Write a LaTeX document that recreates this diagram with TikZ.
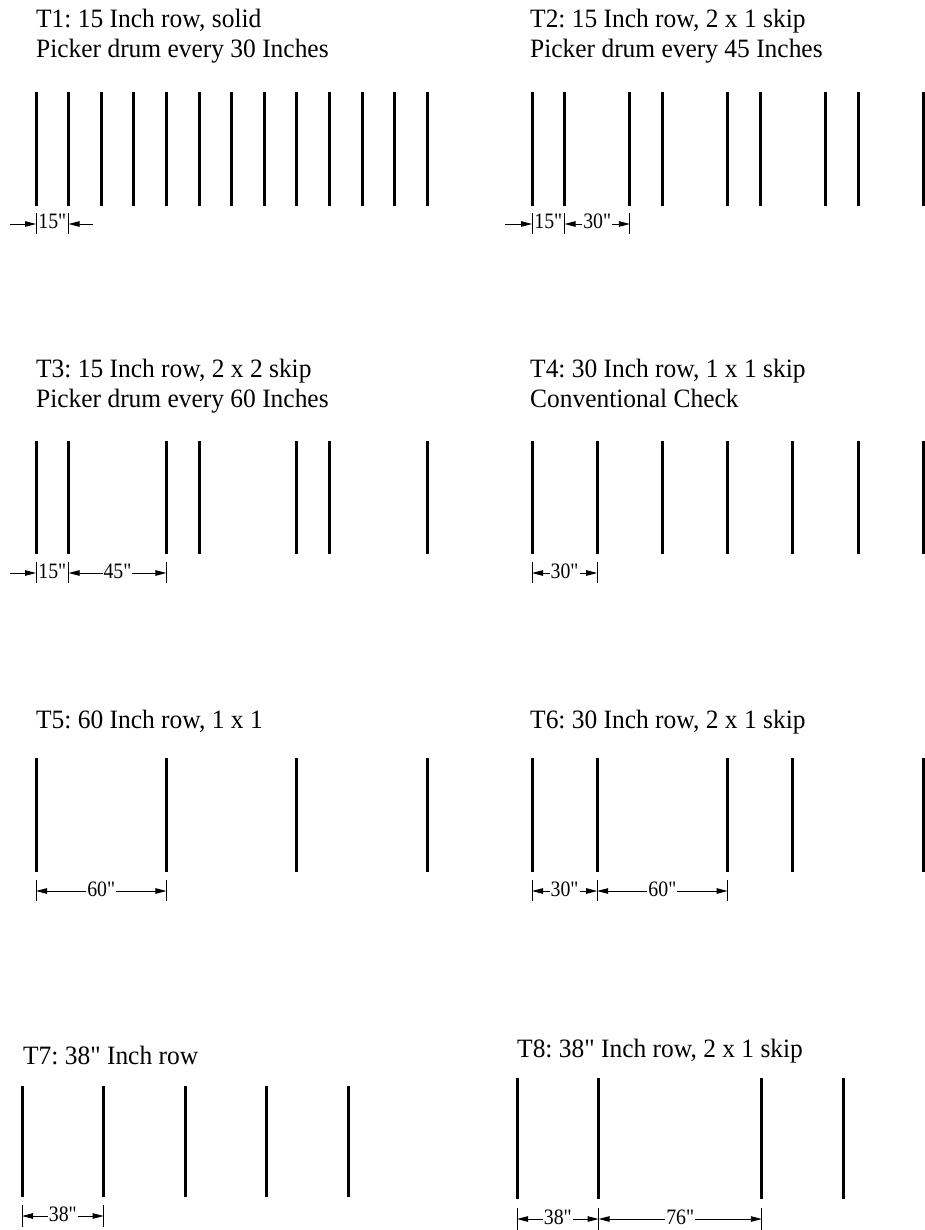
\documentclass[tikz,border=0pt]{standalone}
\usepackage{fontspec}
\setmainfont{Liberation Serif}[Ligatures=TeXOff]
\newfontfamily\ttlfamily{Liberation Serif}[Ligatures=TeXOff, FakeStretch=0.96]
\newfontfamily\dimfamily{Liberation Serif}[Ligatures=TeXOff, FakeStretch=0.9]
\usetikzlibrary{arrows.meta}
\frenchspacing
\begin{document}
\begin{tikzpicture}[x=1pt,y=-1pt,
  rowline/.style={line width=3pt},
  ttl/.style={font=\ttlfamily\fontsize{26.5}{30}\selectfont, anchor=base west, inner sep=0pt},
  dimtxt/.style={font=\dimfamily\fontsize{22}{24}\selectfont, anchor=base, inner sep=0.8pt, fill=white},
  dimarrow/.style={line width=0.9pt, -{Triangle[length=11pt,width=5.5pt]}},
  tickln/.style={line width=0.9pt}]
\useasboundingbox (0,0) rectangle (924,1230);

% ---------- titles ----------
\node[ttl] (t1a) at (36,28) {T1: 15 Inch row, solid};
\node[ttl] (t1b) at (36,58) {Picker drum every 30 Inches};
\node[ttl] (t2a) at (530,28) {T2: 15 Inch row, 2 x 1 skip};
\node[ttl] (t2b) at (530,58) {Picker drum every 45 Inches};
\node[ttl] (t3a) at (36,377) {T3: 15 Inch row, 2 x 2 skip};
\node[ttl] (t3b) at (36,407) {Picker drum every 60 Inches};
\node[ttl] (t4a) at (530,377) {T4: 30 Inch row, 1 x 1 skip};
\node[ttl] (t4b) at (530,407) {Conventional Check};
\node[ttl] (t5a) at (36,728) {T5: 60 Inch row, 1 x 1};
\node[ttl] (t6a) at (530,728) {T6: 30 Inch row, 2 x 1 skip};
\node[ttl] (t7a) at (23,1064) {T7: 38" Inch row};
\node[ttl] (t8a) at (517,1057) {T8: 38" Inch row, 2 x 1 skip};

% ---------- rows ----------
\foreach \k in {0,...,12} \draw[rowline] ({36+32.6*\k},92) -- ({36+32.6*\k},206);
\foreach \k in {0,1,3,4,6,7,9,10,12} \draw[rowline] ({532+32.6*\k},92) -- ({532+32.6*\k},206);
\foreach \k in {0,1,4,5,8,9,12} \draw[rowline] ({36+32.6*\k},441) -- ({36+32.6*\k},554);
\foreach \k in {0,2,4,6,8,10,12} \draw[rowline] ({532+32.6*\k},441) -- ({532+32.6*\k},554);
\foreach \k in {0,4,8,12} \draw[rowline] ({36+32.6*\k},758) -- ({36+32.6*\k},872);
\foreach \k in {0,2,6,8,12} \draw[rowline] ({532+32.6*\k},758) -- ({532+32.6*\k},872);
\foreach \k in {0,...,4} \draw[rowline] ({22+81.6*\k},1086) -- ({22+81.6*\k},1197);
\foreach \k in {0,1,3,4} \draw[rowline] ({517+81.6*\k},1078) -- ({517+81.6*\k},1199);

% ---------- T1 dimension ----------
\coordinate (d1a) at (36,224); \coordinate (d1b) at (68.6,224);
\coordinate (d1l) at (10,224); \coordinate (d1r) at (93,224);
\node[dimtxt] (d1t) at (52.3,229) {15"};
\draw[dimarrow] (d1l) -- (d1a);
\draw[dimarrow] (d1r) -- (d1b);
\draw[tickln] (36,213) -- (36,234);
\draw[tickln] (68.6,213) -- (68.6,234);

% ---------- T2 dimension ----------
\coordinate (d2a) at (532,224); \coordinate (d2b) at (564.6,224); \coordinate (d2c) at (629.8,224);
\coordinate (d2l) at (505,224);
\node[dimtxt] (d2t) at (548.3,229) {15"};
\node[dimtxt] (d2u) at (597.2,229) {30"};
\draw[dimarrow] (d2l) -- (d2a);
\draw[dimarrow] (d2u.west |- d2b) -- (d2b);
\draw[dimarrow] (d2u.east |- d2c) -- (d2c);
\draw[tickln] (532,213) -- (532,234);
\draw[tickln] (564.6,213) -- (564.6,234);
\draw[tickln] (629.8,213) -- (629.8,234);

% ---------- T3 dimension ----------
\coordinate (d3a) at (36,573); \coordinate (d3b) at (68.6,573); \coordinate (d3c) at (166.4,573);
\coordinate (d3l) at (10,573);
\node[dimtxt] (d3t) at (52.3,578) {15"};
\node[dimtxt] (d3u) at (117.5,578) {45"};
\draw[dimarrow] (d3l) -- (d3a);
\draw[dimarrow] (d3u.west |- d3b) -- (d3b);
\draw[dimarrow] (d3u.east |- d3c) -- (d3c);
\draw[tickln] (36,562) -- (36,583);
\draw[tickln] (68.6,562) -- (68.6,583);
\draw[tickln] (166.4,562) -- (166.4,583);

% ---------- T4 dimension ----------
\coordinate (d4a) at (532,573); \coordinate (d4b) at (597.2,573);
\node[dimtxt] (d4t) at (564.6,578) {30"};
\draw[dimarrow] (d4t.west |- d4a) -- (d4a);
\draw[dimarrow] (d4t.east |- d4b) -- (d4b);
\draw[tickln] (532,562) -- (532,583);
\draw[tickln] (597.2,562) -- (597.2,583);

% ---------- T5 dimension ----------
\coordinate (d5a) at (36,891); \coordinate (d5b) at (166.4,891);
\node[dimtxt] (d5t) at (101.2,896) {60"};
\draw[dimarrow] (d5t.west |- d5a) -- (d5a);
\draw[dimarrow] (d5t.east |- d5b) -- (d5b);
\draw[tickln] (36,880) -- (36,901);
\draw[tickln] (166.4,880) -- (166.4,901);

% ---------- T6 dimension ----------
\coordinate (d6a) at (532,891); \coordinate (d6b) at (597.2,891); \coordinate (d6c) at (727.6,891);
\node[dimtxt] (d6t) at (564.6,896) {30"};
\node[dimtxt] (d6u) at (662.4,896) {60"};
\draw[dimarrow] (d6t.west |- d6a) -- (d6a);
\draw[dimarrow] (d6t.east |- d6b) -- (d6b);
\draw[dimarrow] (d6u.west |- d6b) -- (d6b);
\draw[dimarrow] (d6u.east |- d6c) -- (d6c);
\draw[tickln] (532,880) -- (532,901);
\draw[tickln] (597.2,880) -- (597.2,901);
\draw[tickln] (727.6,880) -- (727.6,901);

% ---------- T7 dimension ----------
\coordinate (d7a) at (22,1216); \coordinate (d7b) at (103.6,1216);
\node[dimtxt] (d7t) at (62.8,1221) {38"};
\draw[dimarrow] (d7t.west |- d7a) -- (d7a);
\draw[dimarrow] (d7t.east |- d7b) -- (d7b);
\draw[tickln] (22,1205) -- (22,1227);
\draw[tickln] (103.6,1205) -- (103.6,1227);

% ---------- T8 dimension ----------
\coordinate (d8a) at (517,1219); \coordinate (d8b) at (598.6,1219); \coordinate (d8c) at (761.8,1219);
\node[dimtxt] (d8t) at (557.8,1224) {38"};
\node[dimtxt] (d8u) at (680.2,1224) {76"};
\draw[dimarrow] (d8t.west |- d8a) -- (d8a);
\draw[dimarrow] (d8t.east |- d8b) -- (d8b);
\draw[dimarrow] (d8u.west |- d8b) -- (d8b);
\draw[dimarrow] (d8u.east |- d8c) -- (d8c);
\draw[tickln] (517,1208) -- (517,1230);
\draw[tickln] (598.6,1208) -- (598.6,1230);
\draw[tickln] (761.8,1208) -- (761.8,1230);
\end{tikzpicture}
\end{document}
